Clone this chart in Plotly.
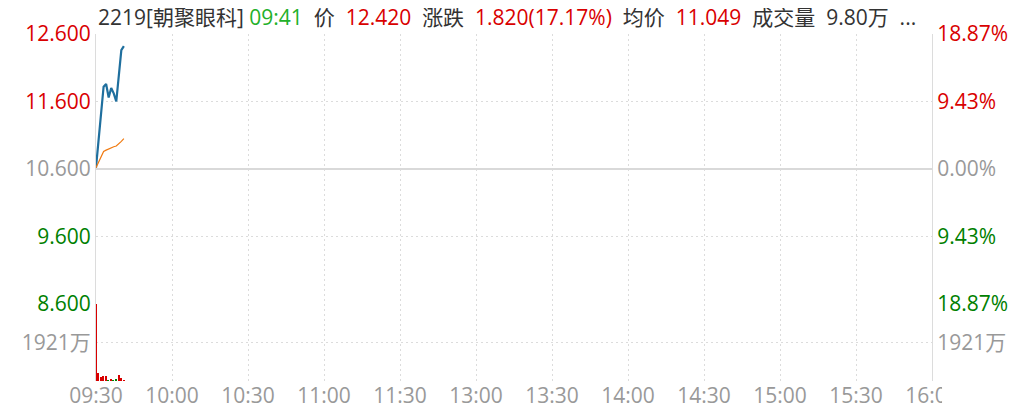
import plotly.graph_objects as go

# 分时数据 (09:30 起每分钟)
minutes = [0, 1, 2, 3, 4, 5, 6, 7, 8, 9, 10, 11]
price = [10.62, 10.99, 11.38, 11.82, 11.86, 11.66, 11.80, 11.72, 11.60, 11.98, 12.36, 12.42]
avg_price = [10.62, 10.70, 10.79, 10.86, 10.88, 10.90, 10.92, 10.93, 10.94, 10.97, 11.01, 11.049]
volume = [3830, 414, 200, 264, 264, 50, 100, 50, 75, 314, 150, 50]  # 万

pre_close = 10.6
price_ticks = [8.6, 9.6, 10.6, 11.6, 12.6]
pct_labels = ["18.87%", "9.43%", "0.00%", "9.43%", "18.87%"]
vol_max = 3842
time_ticks = [0, 30, 60, 90, 120, 150, 180, 210, 240, 270, 300, 330]
time_labels = ["09:30", "10:00", "10:30", "11:00", "11:30", "13:00",
               "13:30", "14:00", "14:30", "15:00", "15:30", "16:00"]

RED = "#d90000"
GREEN = "#008000"
GREY = "#999999"
GRID = "#dcdcdc"
DOT = "2px,3px"
FONT = "Open Sans, Noto Sans CJK SC, sans-serif"
FS = 21


def colored(text, val):
    if val > pre_close:
        c = RED
    elif val < pre_close:
        c = GREEN
    else:
        c = GREY
    return f"<span style='color:{c}'>{text}</span>"


left_text = [colored(f"{v:.3f}", v) for v in price_ticks]
right_text = [colored(t, v) for t, v in zip(pct_labels, price_ticks)]

# 量柱颜色: 涨红 跌绿
bar_colors = []
prev = pre_close
for p in price:
    bar_colors.append(RED if p >= prev else GREEN)
    prev = p

fig = go.Figure()
fig.add_trace(go.Scatter(x=minutes, y=price, mode="lines",
                         line=dict(color="#1f6f9e", width=2.2),
                         xaxis="x", yaxis="y", hoverinfo="skip"))
fig.add_trace(go.Scatter(x=minutes, y=avg_price, mode="lines",
                         line=dict(color="#f07a10", width=1.2),
                         xaxis="x", yaxis="y", hoverinfo="skip"))
# 右轴占位
fig.add_trace(go.Scatter(x=minutes, y=price, mode="lines", opacity=0,
                         xaxis="x", yaxis="y2", hoverinfo="skip"))
fig.add_trace(go.Bar(x=minutes, y=volume, marker=dict(color=bar_colors, line=dict(width=0)),
                     width=0.6, xaxis="x2", yaxis="y3", hoverinfo="skip"))
fig.add_trace(go.Scatter(x=minutes, y=volume, mode="lines", opacity=0,
                         xaxis="x2", yaxis="y4", hoverinfo="skip"))

axis_font = dict(family=FONT, size=FS, color=GREY)
vol_frac = 77 / 347

# 页面 body 有 8px 边距, 图整体缩小 8px
fig.update_layout(
    width=1011, height=402,
    margin=dict(l=88, r=87, t=26, b=29, autoexpand=False),
    paper_bgcolor="white", plot_bgcolor="white",
    showlegend=False,
    font=dict(family=FONT, size=FS, color="#333333"),
    xaxis=dict(domain=[0, 1], range=[0, 330], tickvals=time_ticks, showticklabels=False,
               showgrid=True, gridcolor=GRID, griddash=DOT, zeroline=False, anchor="y",
               automargin=False),
    xaxis2=dict(domain=[0, 1], range=[0, 330], matches="x", tickvals=time_ticks,
                ticktext=time_labels, tickfont=axis_font, showgrid=True, gridcolor=GRID,
                griddash=DOT, zeroline=False, anchor="y3", ticks="", automargin=False),
    yaxis=dict(domain=[vol_frac, 1], range=[8.6, 12.6], tickvals=price_ticks, ticktext=left_text,
               tickfont=axis_font, showgrid=True, gridcolor=GRID, griddash=DOT,
               zeroline=False, showline=True, linecolor=GRID, ticks="", automargin=False),
    yaxis2=dict(overlaying="y", side="right", range=[8.6, 12.6], tickvals=price_ticks,
                ticktext=right_text, tickfont=axis_font, showgrid=False, zeroline=False,
                showline=True, linecolor=GRID, ticks="", anchor="x", automargin=False),
    yaxis3=dict(domain=[0, vol_frac], range=[0, vol_max], tickvals=[0, vol_max / 2, vol_max],
                ticktext=["", "1921万", ""], tickfont=axis_font, showgrid=True, gridcolor=GRID,
                griddash=DOT, zeroline=False, showline=True, linecolor=GRID, ticks="",
                anchor="x2", automargin=False),
    yaxis4=dict(overlaying="y3", side="right", range=[0, vol_max], tickvals=[vol_max / 2],
                ticktext=["1921万"], tickfont=axis_font, showgrid=False, zeroline=False,
                showline=True, linecolor=GRID, ticks="", anchor="x2", automargin=False),
    bargap=0,
)

# 昨收线
fig.add_shape(type="line", xref="paper", yref="y", x0=0, x1=1, y0=pre_close, y1=pre_close,
              line=dict(color="#d9d9d9", width=2))

# 16:00 标签被截断
fig.add_shape(type="rect", xref="paper", yref="paper", x0=1.012, x1=1.2, y0=-0.12, y1=-0.015,
              fillcolor="white", line=dict(width=0), layer="above")

nb = "\u00a0"
header = (f"<span style='color:#333333'>2219[朝聚眼科]</span>{nb}"
          f"<span style='color:#22b02a'>09:41</span>{nb}{nb}"
          f"<span style='color:#333333'>价</span>{nb}{nb}"
          f"<span style='color:{RED}'>12.420</span>{nb}{nb}"
          f"<span style='color:#333333'>涨跌</span>{nb}{nb}"
          f"<span style='color:{RED}'>1.820(17.17%)</span>{nb}{nb}"
          f"<span style='color:#333333'>均价</span>{nb}{nb}"
          f"<span style='color:{RED}'>11.049</span>{nb}{nb}"
          f"<span style='color:#333333'>成交量</span>{nb}{nb}"
          f"<span style='color:#333333'>9.80万</span>{nb}{nb}"
          f"<span style='color:#333333'>...</span>")
fig.add_annotation(text=header, xref="paper", yref="paper", x=0, y=1, xanchor="left",
                   yanchor="middle", yshift=17, xshift=0, showarrow=False,
                   font=dict(family=FONT, size=FS, color="#333333"))

fig.write_html("out.html")
